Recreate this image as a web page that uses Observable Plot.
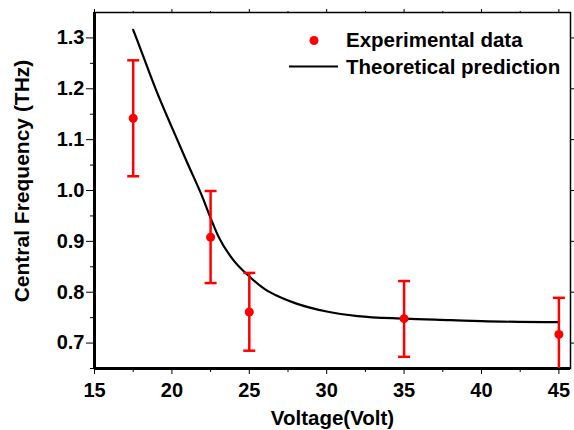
<!DOCTYPE html>
<html>
<head>
<meta charset="utf-8">
<script src="https://cdn.jsdelivr.net/npm/d3@7"></script>
<script src="https://cdn.jsdelivr.net/npm/@observablehq/plot@0.6"></script>
<style>
  html, body { margin: 0; padding: 0; background: #fff; }
  #wrap { position: relative; width: 574px; height: 430px; font-family: "Liberation Sans", Arial, sans-serif; }
  #legend { position: absolute; left: 0; top: 0; pointer-events: none; }
</style>
</head>
<body>
<div id="wrap"></div>
<script>
// ---- data ----
const voltage = [17.5, 22.5, 25, 35, 45];
const freq    = [1.142, 0.908, 0.761, 0.748, 0.717];
const errLow  = [1.028, 0.818, 0.685, 0.673, 0.645];
const errHigh = [1.256, 0.999, 0.838, 0.822, 0.789];

const theoryV = [17.5, 18, 19, 20, 21, 22, 22.5, 23, 24, 25, 26, 27, 28, 30, 32, 35, 38, 40, 45];
const theoryF = [1.316, 1.276, 1.196, 1.124, 1.054, 0.985, 0.946, 0.910, 0.862, 0.831, 0.806, 0.790, 0.778, 0.762, 0.753, 0.748, 0.745, 0.743, 0.741];

const xTicks = [15, 20, 25, 30, 35, 40, 45];
const xMinor = [17.5, 22.5, 27.5, 32.5, 37.5, 42.5];
const yTicks = [0.7, 0.8, 0.9, 1.0, 1.1, 1.2, 1.3];
const yMinor = [0.65, 0.75, 0.85, 0.95, 1.05, 1.15, 1.25];

const xTitle = "Voltage(Volt)";
const yTitle = "Central Frequency (THz)";
const legendLabels = ["Experimental data", "Theoretical prediction"];

// ---- tables ----
const points = voltage.map((v, i) => ({v, f: freq[i], lo: errLow[i], hi: errHigh[i]}));
const theory = theoryV.map((v, i) => ({v, f: theoryF[i]}));

const capSymbol = {
  draw(context, size) {
    const r = Math.sqrt(size / Math.PI);
    context.moveTo(-r, 0);
    context.lineTo(r, 0);
  }
};

const FF = "Liberation Sans, Arial, sans-serif";
const font = {fontFamily: FF, fontWeight: "bold"};

const chart = Plot.plot({
  width: 574,
  height: 430,
  marginLeft: 94,
  marginTop: 12,
  marginRight: 4,
  marginBottom: 62,
  style: {fontFamily: FF, fontWeight: "bold", fontSize: "20px", color: "#000", background: "#fff"},
  x: {domain: [15, 45.75]},
  y: {domain: [0.65, 1.35]},
  marks: [
    // axes
    Plot.axisX({anchor: "bottom", ticks: xTicks, tickSize: 6, tickPadding: 8, tickWidth: 2, label: null, fontSize: 20, ...font}),
    Plot.axisX({anchor: "bottom", ticks: xMinor, tickSize: 4, tickWidth: 2, tickFormat: () => "", label: null}),
    Plot.axisX({anchor: "top", ticks: xTicks, tickSize: 4, tickWidth: 1.5, tickFormat: () => "", label: null}),
    Plot.axisX({anchor: "top", ticks: xMinor, tickSize: 2, tickWidth: 1.5, tickFormat: () => "", label: null}),
    Plot.axisY({anchor: "left", ticks: yTicks, tickSize: 8, tickPadding: 2, tickWidth: 2, tickFormat: d3.format(".1f"), label: null, fontSize: 20, ...font}),
    Plot.axisY({anchor: "left", ticks: yMinor, tickSize: 4, tickWidth: 2, tickFormat: () => "", label: null}),
    Plot.axisY({anchor: "right", ticks: yTicks, tickSize: 4, tickWidth: 1.5, tickFormat: () => "", label: null}),
    Plot.frame({stroke: "#000", strokeWidth: 1.5}),
    Plot.ruleX([15], {stroke: "#000", strokeWidth: 3}),
    Plot.ruleY([0.65], {stroke: "#000", strokeWidth: 3}),
    // theory curve
    Plot.line(theory, {x: "v", y: "f", stroke: "#000", strokeWidth: 2.2, curve: "monotone-x"}),
    // error bars
    Plot.ruleX(points, {x: "v", y1: "lo", y2: "hi", stroke: "#ff0000", strokeWidth: 2.5, clip: true}),
    Plot.dot(points, {x: "v", y: "hi", symbol: capSymbol, r: 6, stroke: "#ff0000", strokeWidth: 2.5, fill: "none"}),
    Plot.dot(points.filter(d => d.lo >= 0.65), {x: "v", y: "lo", symbol: capSymbol, r: 6, stroke: "#ff0000", strokeWidth: 2.5, fill: "none"}),
    Plot.dot(points, {x: "v", y: "f", r: 4.5, fill: "#ff0000", stroke: "none"}),
    // x title
    Plot.text([xTitle], {frameAnchor: "bottom", dy: 56, lineAnchor: "bottom", fontSize: 20.5, ...font, fill: "#000"})
  ]
});

const wrap = document.getElementById("wrap");
wrap.appendChild(chart);

// overlay: y title and legend
const ns = "http://www.w3.org/2000/svg";
const leg = document.createElementNS(ns, "svg");
leg.setAttribute("id", "legend");
leg.setAttribute("width", 574);
leg.setAttribute("height", 430);
const sel = d3.select(leg);
sel.append("text")
  .attr("transform", "translate(29,181) rotate(-90)")
  .attr("text-anchor", "middle")
  .attr("font-family", FF).attr("font-weight", "bold").attr("font-size", 21).attr("fill", "#000")
  .text(yTitle);
sel.append("circle").attr("cx", 314).attr("cy", 40.5).attr("r", 4.5).attr("fill", "#ff0000");
sel.append("line").attr("x1", 289).attr("x2", 338).attr("y1", 66.5).attr("y2", 66.5).attr("stroke", "#000").attr("stroke-width", 2.2);
sel.append("text").attr("x", 346).attr("y", 47).text(legendLabels[0])
  .attr("font-family", FF).attr("font-weight", "bold").attr("font-size", 20.5).attr("fill", "#000");
sel.append("text").attr("x", 346).attr("y", 73.5).text(legendLabels[1])
  .attr("font-family", FF).attr("font-weight", "bold").attr("font-size", 20.5).attr("fill", "#000");
wrap.appendChild(leg);
</script>
</body>
</html>
